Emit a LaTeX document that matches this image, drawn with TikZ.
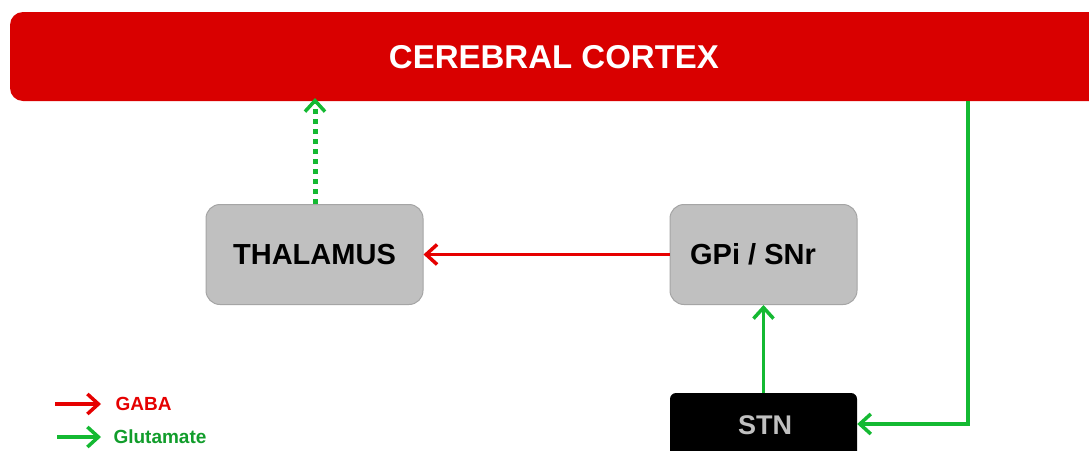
\documentclass[tikz,border=0pt]{standalone}
\usepackage{fontspec}
\setmainfont{Liberation Sans}
\usetikzlibrary{arrows.meta,positioning}
\definecolor{cortexred}{RGB}{217,0,0}
\definecolor{gabared}{RGB}{230,0,0}
\definecolor{glugreen}{RGB}{20,185,50}
\definecolor{boxgray}{RGB}{192,192,192}
\definecolor{boxedge}{RGB}{165,165,165}
\tikzset{
  region/.style={draw=boxedge, line width=1pt, fill=boxgray, rounded corners=14pt,
    minimum width=217pt, minimum height=100pt, font=\bfseries\fontsize{29}{31}\selectfont},
  nucleus/.style={fill=black, rounded corners=6pt, minimum width=187pt, minimum height=70pt,
    text=boxgray, font=\bfseries\fontsize{27}{29}\selectfont},
  chev/.style={-{Straight Barb[length=11pt,width=20pt,line width=3.5pt]}},
  gaba/.style={draw=gabared, line width=3.5pt, chev},
  glut/.style={draw=glugreen, line width=3.5pt, chev},
  legtext/.style={anchor=west, font=\bfseries\fontsize{19}{21}\selectfont}
}
\begin{document}
\begin{tikzpicture}[x=1pt,y=-1pt]
\useasboundingbox (0,0) rectangle (1089,450);
\clip (0,0) rectangle (1089,450);
\fill[white] (0,0) rectangle (1089,450);

% cortex band, running off the right edge
\fill[cortexred, rounded corners=13pt] (10,12) rectangle (1120,101);
\node[text=white, font=\bfseries\fontsize{33}{35}\selectfont] (cortex) at (554,57) {CEREBRAL CORTEX};
\coordinate (cxthal) at (315,101);
\coordinate (cxstn) at (968,101);

% basal ganglia nodes
\node[region] (thal) at (314.5,254.5) {THALAMUS};
\node[region, minimum width=187pt] (gpi) at (763.5,254.5) {};
\node[font=\bfseries\fontsize{29}{31}\selectfont] (gpitxt) at (753,254.5) {GPi / SNr};
\node[nucleus] (stn) at (763.5,428) {};
\node[text=boxgray, font=\bfseries\fontsize{27}{29}\selectfont] (stntxt) at (765,425) {STN};

% pathways
\draw[glut, dash pattern=on 5pt off 5pt, line width=5pt] (thal.north -| cxthal) -- ([yshift=3pt]cxthal);
\draw[gaba] (gpi.west) -- (thal.east);
\draw[glut] (stn.north) -- (gpi.south);
\draw[glut] (cxstn) |- (stn.east |- 0,424);

% legend
\coordinate (ga) at (55,404);
\coordinate (gb) at (101,404);
\coordinate (la) at (57,437);
\coordinate (lb) at (101,437);
\draw[gaba] (ga) -- (gb);
\draw[glut] (la) -- (lb);
\node[legtext, text=gabared] (gabatxt) at (112,404) {GABA};
\node[legtext, text=glugreen!85!black] (gluttxt) at (110,437) {Glutamate};
\end{tikzpicture}
\end{document}
